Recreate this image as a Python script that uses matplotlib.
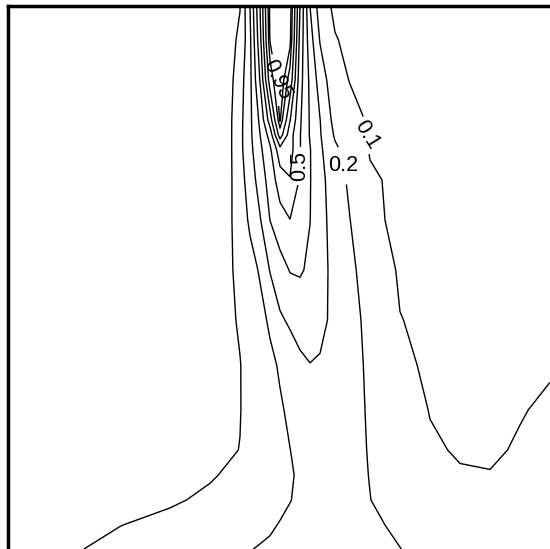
import numpy as np
import matplotlib
matplotlib.use("Agg")
import matplotlib.pyplot as plt

# horizontal positions of grid columns and vertical positions (depth, downward) of grid rows
x = [8, 60, 120, 170, 210, 230, 240, 250, 260, 270, 280, 290, 300, 310, 320,
     335, 350, 370, 400, 430, 460, 490, 520, 550]
z = [6, 40, 80, 120, 135, 150, 180, 220, 270, 320, 365, 410, 450, 475, 500, 525, 549]

# concentration values, one list per row
r006 = [0.01, 0.02, 0.03, 0.04, 0.05, 0.08, 0.098, 0.30, 0.60, 0.97, 1.00, 0.99, 0.60, 0.30, 0.15, 0.08, 0.06, 0.05, 0.04, 0.03, 0.03, 0.02, 0.02, 0.02]
r040 = [0.01, 0.02, 0.03, 0.045, 0.065, 0.085, 0.11, 0.28, 0.567, 0.955, 1.00, 0.97, 0.567, 0.343, 0.194, 0.106, 0.08, 0.06, 0.05, 0.04, 0.035, 0.03, 0.03, 0.03]
r080 = [0.015, 0.025, 0.035, 0.05, 0.06, 0.075, 0.156, 0.275, 0.505, 0.85, 1.00, 0.867, 0.54, 0.378, 0.257, 0.13, 0.097, 0.075, 0.06, 0.05, 0.045, 0.04, 0.04, 0.04]
r120 = [0.02, 0.03, 0.04, 0.055, 0.07, 0.085, 0.17, 0.278, 0.42, 0.65, 0.96, 0.705, 0.514, 0.39, 0.302, 0.165, 0.127, 0.09, 0.07, 0.06, 0.055, 0.05, 0.05, 0.05]
r135 = [0.02, 0.03, 0.045, 0.06, 0.07, 0.085, 0.173, 0.278, 0.398, 0.54, 0.85, 0.643, 0.505, 0.392, 0.308, 0.188, 0.144, 0.092, 0.075, 0.065, 0.06, 0.055, 0.055, 0.055]
r150 = [0.02, 0.035, 0.045, 0.06, 0.072, 0.085, 0.173, 0.27, 0.378, 0.48, 0.66, 0.64, 0.505, 0.405, 0.317, 0.219, 0.159, 0.095, 0.077, 0.07, 0.065, 0.06, 0.06, 0.06]
r180 = [0.025, 0.035, 0.05, 0.062, 0.075, 0.085, 0.162, 0.245, 0.344, 0.442, 0.55, 0.595, 0.49, 0.405, 0.329, 0.248, 0.182, 0.11, 0.085, 0.075, 0.07, 0.065, 0.065, 0.065]
r220 = [0.025, 0.04, 0.055, 0.068, 0.078, 0.088, 0.15, 0.215, 0.292, 0.401, 0.46, 0.498, 0.46, 0.402, 0.333, 0.26, 0.201, 0.13, 0.07, 0.065, 0.065, 0.065, 0.065, 0.065]
r270 = [0.03, 0.04, 0.058, 0.07, 0.08, 0.09, 0.125, 0.167, 0.209, 0.305, 0.36, 0.405, 0.412, 0.381, 0.333, 0.271, 0.218, 0.16, 0.09, 0.08, 0.075, 0.072, 0.072, 0.072]
r320 = [0.03, 0.045, 0.06, 0.072, 0.082, 0.09, 0.107, 0.14, 0.173, 0.214, 0.286, 0.315, 0.33, 0.34, 0.323, 0.277, 0.229, 0.176, 0.102, 0.085, 0.08, 0.078, 0.078, 0.078]
r365 = [0.03, 0.045, 0.062, 0.075, 0.085, 0.092, 0.098, 0.123, 0.151, 0.18, 0.21, 0.245, 0.285, 0.298, 0.292, 0.26, 0.23, 0.185, 0.12, 0.085, 0.083, 0.083, 0.085, 0.095]
r410 = [0.035, 0.05, 0.065, 0.078, 0.088, 0.093, 0.098, 0.12, 0.143, 0.167, 0.19, 0.215, 0.24, 0.255, 0.26, 0.25, 0.23, 0.19, 0.145, 0.097, 0.09, 0.088, 0.097, 0.108]
r450 = [0.04, 0.055, 0.07, 0.08, 0.09, 0.095, 0.101, 0.122, 0.142, 0.161, 0.18, 0.199, 0.22, 0.235, 0.24, 0.235, 0.225, 0.195, 0.155, 0.11, 0.093, 0.093, 0.105, 0.12]
r475 = [0.045, 0.06, 0.075, 0.085, 0.095, 0.107, 0.113, 0.125, 0.14, 0.155, 0.172, 0.193, 0.21, 0.225, 0.232, 0.23, 0.222, 0.198, 0.16, 0.125, 0.106, 0.102, 0.11, 0.125]
r500 = [0.05, 0.065, 0.08, 0.093, 0.11, 0.12, 0.127, 0.135, 0.147, 0.16, 0.178, 0.198, 0.212, 0.222, 0.228, 0.228, 0.222, 0.201, 0.17, 0.14, 0.125, 0.12, 0.125, 0.135]
r525 = [0.055, 0.072, 0.099, 0.115, 0.13, 0.14, 0.148, 0.158, 0.17, 0.188, 0.205, 0.215, 0.222, 0.226, 0.228, 0.227, 0.222, 0.212, 0.188, 0.16, 0.145, 0.138, 0.14, 0.145]
r549 = [0.06, 0.09, 0.115, 0.135, 0.155, 0.172, 0.185, 0.196, 0.208, 0.215, 0.22, 0.223, 0.226, 0.228, 0.23, 0.228, 0.222, 0.213, 0.201, 0.18, 0.165, 0.155, 0.155, 0.16]

levels = [0.1, 0.2, 0.3, 0.4, 0.5, 0.6, 0.7, 0.8, 0.9, 0.95]
label_levels = [0.95, 0.5, 0.2, 0.1]
label_spots = [(277, 80), (300, 166), (346, 165), (369, 135)]
label_angles = [-65, 90, 0, -58]

C = np.array([r006, r040, r080, r120, r135, r150, r180, r220, r270, r320,
              r365, r410, r450, r475, r500, r525, r549])
X, Z = np.meshgrid(x, z)

fig = plt.figure(figsize=(5.5, 5.49), dpi=100)
ax = fig.add_axes([8 / 550, 0, 542 / 550, 543 / 549])

plain_levels = [v for v in levels if v not in label_levels]
ax.contour(X, Z, C, levels=plain_levels, colors="black", linewidths=1.0)

fmt = lambda v: f"{v:g}"
for lev, spot, ang in zip(label_levels, label_spots, label_angles):
    cs = ax.contour(X, Z, C, levels=[lev], colors="black", linewidths=1.0)
    txts = cs.clabel(manual=[spot], inline=True, inline_spacing=2,
                     fmt=fmt, fontsize=15.5, colors="black")
    for t in txts:
        t.set_fontfamily("Liberation Sans")
        t.set_rotation(ang)

ax.set_xlim(x[0], x[-1])
ax.set_ylim(z[-1], z[0])
ax.set_xticks([])
ax.set_yticks([])
for s in ["right", "bottom"]:
    ax.spines[s].set_visible(False)
for s in ["left", "top"]:
    ax.spines[s].set_linewidth(2.5)
    ax.spines[s].set_color("black")

fig.savefig("out.png", dpi=100)
